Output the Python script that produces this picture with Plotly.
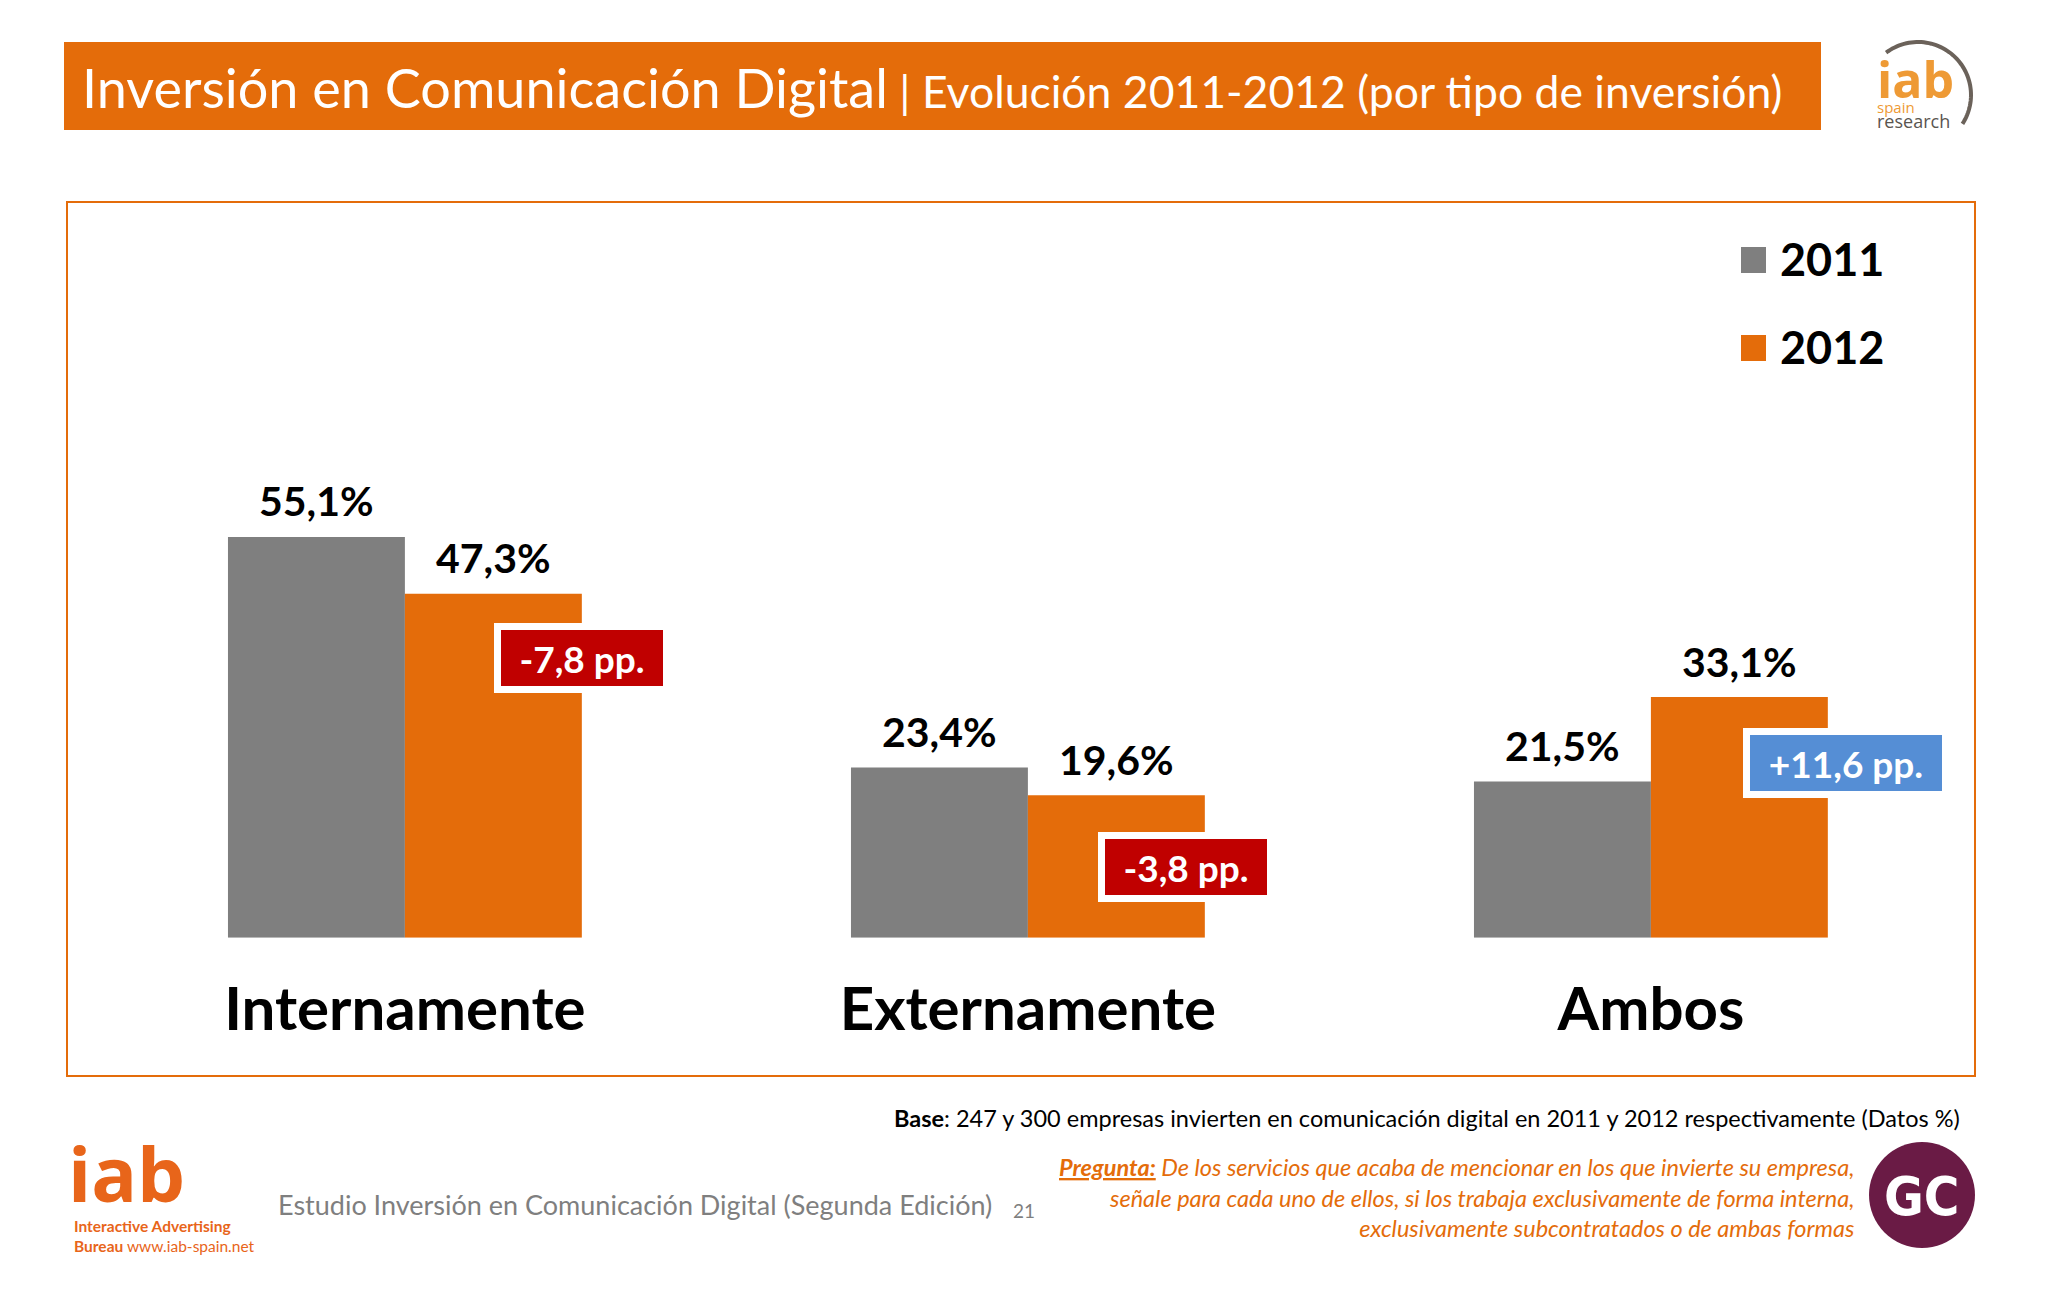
import numpy as np
import plotly.graph_objects as go

# ---------------- data ----------------
categories = ["Internamente", "Externamente", "Ambos"]
years = ["2011", "2012"]
values_2011 = [55.1, 23.4, 21.5]
values_2012 = [47.3, 19.6, 33.1]

title_main = "Inversión en Comunicación Digital"
title_sub = " | Evolución 2011-2012 (por tipo de inversión)"
base_note = "<b>Base</b>: 247 y 300 empresas invierten en comunicación digital en 2011 y 2012 respectivamente (Datos %)"
question = ("<b><u>Pregunta:</u></b> De los servicios que acaba de mencionar en los que invierte su empresa,<br>"
            "señale para cada uno de ellos, si los trabaja exclusivamente de forma interna,<br>"
            "exclusivamente subcontratados o de ambas formas")
footer = "Estudio Inversión en Comunicación Digital (Segunda Edición)"
page_no = "21"

# ---------------- helpers / style ----------------
W, H = 2048, 1297
def X(p):
    return p / W
def Y(p):
    return 1 - p / H

GRAY = "#7F7F7F"
ORANGE = "#E46C0A"
RED = "#C00000"
BLUE = "#558ED5"
FONT = "Lato, 'Open Sans', sans-serif"
LOGO_FONT = "'Open Sans', Lato, sans-serif"

def fmt(v):
    return f"{v:.1f}".replace(".", ",")

xs = list(range(len(categories)))
bw = 0.284

fig = go.Figure()
fig.add_trace(go.Bar(x=xs, y=values_2011, name=years[0], width=bw, offset=-bw,
                     marker=dict(color=GRAY, line_width=0), hoverinfo="skip"))
fig.add_trace(go.Bar(x=xs, y=values_2012, name=years[1], width=bw, offset=0,
                     marker=dict(color=ORANGE, line_width=0), hoverinfo="skip"))

ann = []
# value labels
for i, (a, b) in enumerate(zip(values_2011, values_2012)):
    for xv, v in ((i - bw / 2, a), (i + bw / 2, b)):
        ann.append(dict(x=xv, y=v, xref="x", yref="y", text=fmt(v) + "%", showarrow=False,
                        yanchor="middle", yshift=36,
                        font=dict(family=FONT, size=41, color="black", weight="bold")))

# delta boxes
dx_shift = [0, -19, 18]
dy_shift = [-64, -72, -66]
box_w = [162, 162, 192]
for i, (a, b) in enumerate(zip(values_2011, values_2012)):
    d = round(b - a, 1)
    txt = ("+" if d > 0 else "-") + fmt(abs(d)) + " pp."
    ann.append(dict(x=i + bw, y=b, xref="x", yref="y", text=txt, showarrow=False,
                    xanchor="center", yanchor="middle", xshift=dx_shift[i], yshift=dy_shift[i],
                    width=box_w[i], height=56, bgcolor=RED if d < 0 else BLUE,
                    bordercolor="white", borderwidth=7, borderpad=0,
                    font=dict(family=FONT, size=37, color="white", weight="bold")))

# legend (manual, large squares)
shapes = []
leg_y = [260, 348]
leg_colors = [GRAY, ORANGE]
for yy, col, name in zip(leg_y, leg_colors, years):
    shapes.append(dict(type="rect", xref="paper", yref="paper", x0=X(1741), x1=X(1766),
                       y0=Y(yy + 13), y1=Y(yy - 13), fillcolor=col, line_width=0))
    ann.append(dict(x=X(1778), y=Y(yy - 1), xref="paper", yref="paper", text=name, showarrow=False,
                    xanchor="left", yanchor="middle",
                    font=dict(family=FONT, size=45, color="black", weight="bold")))

# title bar
shapes.append(dict(type="rect", xref="paper", yref="paper", x0=X(64), x1=X(1821), y0=Y(130), y1=Y(42),
                   fillcolor=ORANGE, line_width=0, layer="below"))
ann.append(dict(x=X(80), y=Y(87), xref="paper", yref="paper", showarrow=False, xanchor="left", yanchor="middle",
                text=title_main + "<span style='font-size:44.5px'>" + title_sub + "</span>",
                font=dict(family=FONT, size=54, color="white")))

# chart frame
shapes.append(dict(type="rect", xref="paper", yref="paper", x0=X(67), x1=X(1975), y0=Y(1076), y1=Y(202),
                   fillcolor="rgba(0,0,0,0)", line=dict(color=ORANGE, width=2), layer="below"))

# top-right logo (iab spain research) - one stacked text block
cx, cy, r = 1918, 95, 53
th = np.radians(np.linspace(127, -33, 60))
pts = [(X(cx + r * np.cos(t)), Y(cy - r * np.sin(t))) for t in th]
path = "M " + " L ".join(f"{px:.5f},{py:.5f}" for px, py in pts)
shapes.append(dict(type="path", xref="paper", yref="paper", path=path,
                   line=dict(color="#6B625A", width=4)))
ann.append(dict(x=X(1875), y=Y(43), xref="paper", yref="paper", showarrow=False,
                xanchor="left", yanchor="top", align="left",
                text=("<span style='font-size:50px;font-weight:bold'>iab</span><br>"
                      "<span style='font-size:15px'>spain</span><br>"
                      "<span style='font-size:18px;color:#5A5550'>research</span>"),
                font=dict(family=LOGO_FONT, size=11.5, color="#EE9A35")))

# bottom-left logo
ann.append(dict(x=X(66), y=Y(1172), xref="paper", yref="paper", text="iab", showarrow=False,
                xanchor="left", yanchor="middle",
                font=dict(family=LOGO_FONT, size=76, color="#E8651A", weight="bold")))
ann.append(dict(x=X(72), y=Y(1236), xref="paper", yref="paper",
                text="<b>Interactive Advertising</b><br><b>Bureau</b> www.iab-spain.net", showarrow=False,
                xanchor="left", yanchor="middle", align="left",
                font=dict(family=FONT, size=15.5, color="#E8651A")))

# footer texts
ann.append(dict(x=X(276), y=Y(1204), xref="paper", yref="paper", text=footer, showarrow=False,
                xanchor="left", yanchor="middle", font=dict(family=FONT, size=27, color=GRAY)))
ann.append(dict(x=X(1011), y=Y(1210), xref="paper", yref="paper", text=page_no, showarrow=False,
                xanchor="left", yanchor="middle", font=dict(family=FONT, size=19, color=GRAY)))
ann.append(dict(x=X(1962), y=Y(1118), xref="paper", yref="paper", text=base_note, showarrow=False,
                xanchor="right", yanchor="middle", font=dict(family=FONT, size=23.5, color="black")))
ann.append(dict(x=X(1856), y=Y(1197), xref="paper", yref="paper", text="<i>" + question + "</i>", showarrow=False,
                xanchor="right", yanchor="middle", align="right",
                font=dict(family=FONT, size=23.5, color=ORANGE)))

# GC badge
shapes.append(dict(type="circle", xref="paper", yref="paper", x0=X(1869), x1=X(1975), y0=Y(1248), y1=Y(1142),
                   fillcolor="#6A1B45", line_width=0))
ann.append(dict(x=X(1922), y=Y(1196), xref="paper", yref="paper",
                text="GC", showarrow=False,
                xanchor="center", yanchor="middle",
                font=dict(family="'Liberation Sans Narrow', 'DejaVu Sans Condensed', Roboto, sans-serif",
                          size=54, color="white", weight="bold")))

fig.update_layout(
    width=W, height=H, margin=dict(l=0, r=0, t=0, b=0),
    paper_bgcolor="white", plot_bgcolor="white",
    barmode="overlay", showlegend=False,
    shapes=shapes, annotations=ann,
    xaxis=dict(domain=[X(93.4), X(1962.4)], range=[-0.5, 2.5], tickvals=xs, ticktext=categories,
               showgrid=False, zeroline=False, showline=False, ticks="", ticklabelstandoff=31,
               tickfont=dict(family=FONT, size=60, color="black", weight="bold"), fixedrange=True),
    yaxis=dict(domain=[1 - 937.8 / H, 1 - 210.3 / H], range=[0, 100], visible=False, fixedrange=True),
)

fig.write_html("out.html", config={"displayModeBar": False},
               post_script="document.body.style.margin='0';")
